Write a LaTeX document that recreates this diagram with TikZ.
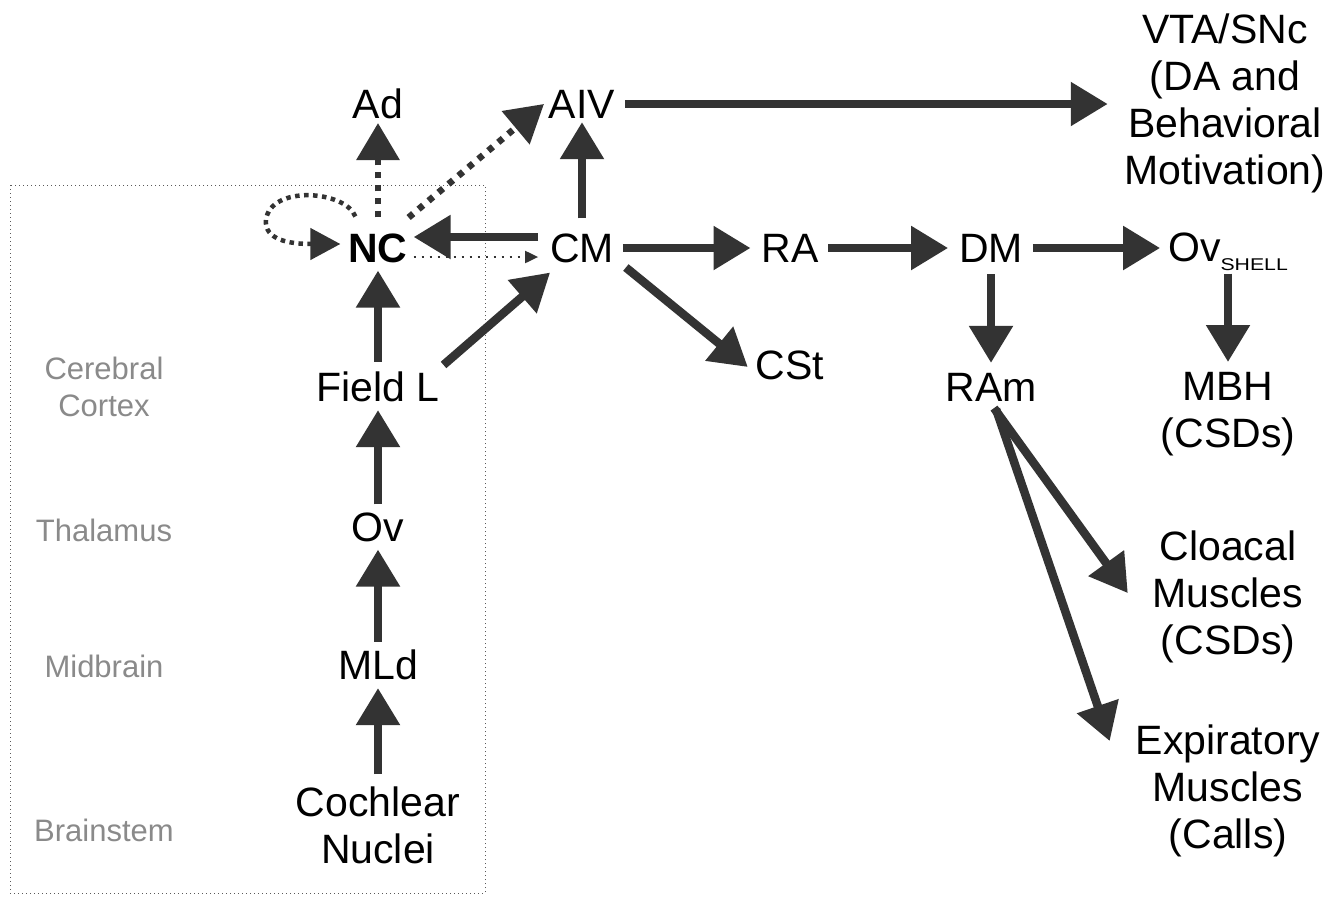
\documentclass[tikz,border=0pt]{standalone}
\usepackage{fontspec}
\setmainfont{Liberation Sans}
\usepackage{graphicx}
\usetikzlibrary{arrows.meta}
\definecolor{ink}{RGB}{51,51,51}
\definecolor{lbl}{RGB}{138,138,138}
\definecolor{boxc}{RGB}{90,90,90}
\begin{document}
\begin{tikzpicture}[x=1pt,y=-1pt,
  every node/.style={inner sep=0pt, outer sep=0pt},
  txt/.style={font=\fontsize{41}{47}\selectfont, align=center, text=black},
  region/.style={font=\fontsize{31}{37}\selectfont, align=center, text=lbl},
  arr/.style={draw=ink, line width=8.5pt, -{Triangle[length=37pt,width=42pt]}, shorten <=8pt, shorten >=8pt},
  dsh/.style={draw=ink, line width=6.5pt, dash pattern=on 6pt off 7pt, -{Triangle[length=37pt,width=42pt]}},
  loopd/.style={draw=ink, line width=4.5pt, dash pattern=on 4.5pt off 4.5pt, -{Triangle[length=30pt,width=31pt]}},
  dotsm/.style={draw=ink, line width=2pt, dash pattern=on 2pt off 6pt, -{Triangle[length=13pt,width=12pt]}},
  boxd/.style={draw=boxc, line width=1pt, dash pattern=on 1pt off 3pt}
]
\useasboundingbox (0,0) rectangle (1344,900);
\fill[white] (0,0) rectangle (1344,900);
\draw[boxd] (10,185) rectangle (485,893);

% region labels
\node[region, anchor=north] (lcc) at (104,357) {Cerebral\\Cortex};
\node[region] (lth) at (104,530) {Thalamus};
\node[region] (lmb) at (104,666) {Midbrain};
\node[region] (lbs) at (104,830) {Brainstem};

% nodes
\node[txt] (ad) at (378,104) {Ad};
\node[txt] (aiv) at (582,104) {AIV};
\node[txt, anchor=north] (vta) at (1225,14) {VTA/SNc\\(DA and\\Behavioral\\Motivation)};
\node[txt] (nc) at (378,248) {\bfseries NC};
\node[txt] (cm) at (582,248) {CM};
\node[txt] (ra) at (790,248) {RA};
\node[txt] (dm) at (991,248) {DM};
\node[txt] (ovs) at (1228,247) {Ov\raisebox{-9pt}[0pt][0pt]{\scalebox{1.25}[1]{\fontsize{17}{17}\selectfont SHELL}}};
\node[txt] (cst) at (790,365) {CSt};
\node[txt] (fieldL) at (378,387) {Field L};
\node[txt] (ram) at (991,387) {RAm};
\node[txt, anchor=north] (mbh) at (1228,372) {MBH\\(CSDs)};
\node[txt] (ov) at (378,527) {Ov};
\node[txt] (mld) at (378,665) {MLd};
\node[txt, anchor=north] (coch) at (378,787) {Cochlear\\Nuclei};
\node[txt, anchor=north] (clo) at (1228,531) {Cloacal\\Muscles\\(CSDs)};
\node[txt, anchor=north] (exp) at (1228,725) {Expiratory\\Muscles\\(Calls)};

% ascending auditory chain
\draw[arr, shorten <=13pt] (coch.north) -- (mld.south);
\draw[arr] (mld.north) -- (ov.south);
\draw[arr] (ov.north) -- (fieldL.south);
\draw[arr, shorten <=10pt] (fieldL.north) -- (nc.south);
\draw[arr, shorten <=0pt, shorten >=0pt] ([shift={(4,-7)}]fieldL.north east) -- ([shift={(0,10)}]cm.south west);

% NC connections
\draw[dsh] ([shift={(0,-16)}]nc.north) -- ([shift={(0,4)}]ad.south);
\draw[dsh] ([shift={(1,-16)}]nc.north east) -- ([shift={(-5,0)}]aiv.west);
\draw[loopd] ([shift={(7,-17)}]nc.north west) .. controls (345,190) and (270,185) .. (266,220) .. controls (264,240) and (290,244) .. ([shift={(-8,-4)}]nc.west);
\draw[arr, shorten <=12pt, shorten >=6pt] ([yshift=11pt]cm.west) -- ([yshift=11pt]nc.east);
\draw[dotsm, shorten <=6pt, shorten >=12pt] ([yshift=-9pt]nc.east) -- ([yshift=-9pt]cm.west);

% CM outputs
\draw[arr, shorten <=15pt, shorten >=4pt] (cm.north) -- (aiv.south);
\draw[arr, shorten <=10pt, shorten >=17pt] (aiv.east) -- (aiv.east -| vta.west);
\draw[arr, shorten <=9pt, shorten >=11pt] (cm.east) -- (ra.west);
\draw[arr, shorten <=0pt, shorten >=0pt] ([shift={(12,5)}]cm.south east) -- ([shift={(-8,2)}]cst.west);

% motor pathway
\draw[arr, shorten <=10pt, shorten >=11pt] (ra.east) -- (dm.west);
\draw[arr, shorten <=10pt, shorten >=8pt] (dm.east) -- (dm.east -| ovs.west);
\draw[arr, shorten <=12pt, shorten >=10pt] (dm.south) -- (ram.north);
\draw[arr, shorten <=12pt, shorten >=10pt] (ovs.south) -- (mbh.north);
\draw[arr, shorten <=0pt, shorten >=0pt] ([shift={(3,7)}]ram.south) -- ([shift={(-25,-4)}]clo.west);
\draw[arr, shorten <=0pt, shorten >=0pt] ([shift={(5,8)}]ram.south) -- ([shift={(-26,-50)}]exp.west);
\end{tikzpicture}
\end{document}
